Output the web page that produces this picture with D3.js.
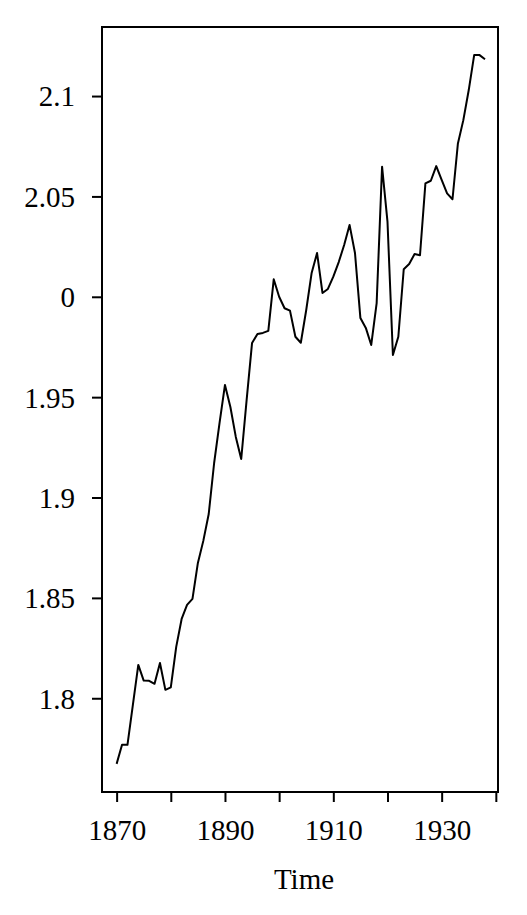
<!DOCTYPE html>
<html>
<head>
<meta charset="utf-8">
<script src="https://cdn.jsdelivr.net/npm/d3@7"></script>
<style>
  body { margin: 0; background: #fff; }
  text { font-family: "Liberation Serif", serif; }
</style>
</head>
<body>
<svg width="527" height="915"></svg>
<script>
// yearly series, values
var years = d3.range(1870, 1939);
var values = [
  1.7673, 1.7768, 1.7768, 1.7967, 1.8166, 1.8088, 1.8087, 1.8072, 1.8176, 1.8042,
  1.8054, 1.8256, 1.8395, 1.8465, 1.8495, 1.8674, 1.8784, 1.8918, 1.9172, 1.9372,
  1.9561, 1.9451, 1.9302, 1.9192, 1.9486, 1.9770, 1.9815, 1.9820, 1.9830, 2.0087,
  2.0000, 1.9943, 1.9931, 1.9801, 1.9771, 1.9934, 2.0119, 2.0218, 2.0019, 2.0039,
  2.0100, 2.0173, 2.0258, 2.0358, 2.0218, 1.9894, 1.9845, 1.9760, 1.9969, 2.0648,
  2.0374, 1.9710, 1.9801, 2.0137, 2.0163, 2.0213, 2.0207, 2.0565, 2.0578, 2.0651,
  2.0582, 2.0515, 2.0486, 2.0764, 2.0880, 2.1030, 2.1204, 2.1204, 2.1183
];

var xTicks = [1870, 1880, 1890, 1900, 1910, 1920, 1930, 1940];
var xLabels = ["1870", "", "1890", "", "1910", "", "1930", ""];
var yTicks = [1.8, 1.85, 1.9, 1.95, 2.0, 2.05, 2.1];
var yLabels = ["1.8", "1.85", "1.9", "1.95", "0", "2.05", "2.1"];

var svg = d3.select("svg");
// plot box (window.top is read-only, so don't call it "top")
var pLeft = 102, pRight = 498, pTop = 27, pBottom = 792;

var x = d3.scaleLinear().domain([1867.3, 1940.4]).range([pLeft, pRight]);
var y = d3.scaleLinear().domain([1.7533, 2.1344]).range([pBottom, pTop]);

// x axis
var gx = svg.append("g")
    .attr("transform", "translate(0," + pBottom + ")")
    .call(d3.axisBottom(x)
      .tickValues(xTicks)
      .tickSize(10)
      .tickSizeOuter(0)
      .tickFormat(function(d, i) { return xLabels[i]; }));
gx.select(".domain").remove();
gx.selectAll("line").attr("stroke", "#000").attr("stroke-width", 2);
gx.selectAll("text")
    .attr("y", 48).attr("dy", 0)
    .attr("fill", "#000")
    .style("font-size", "29px");

// y axis
var gy = svg.append("g")
    .attr("transform", "translate(" + pLeft + ",0)")
    .call(d3.axisLeft(y)
      .tickValues(yTicks)
      .tickSize(10)
      .tickSizeOuter(0)
      .tickPadding(17)
      .tickFormat(function(d, i) { return yLabels[i]; }));
gy.select(".domain").remove();
gy.selectAll("line").attr("stroke", "#000").attr("stroke-width", 2);
gy.selectAll("text")
    .attr("fill", "#000")
    .attr("dy", "0.34em")
    .style("font-size", "29px");

// frame
svg.append("rect")
    .attr("x", pLeft).attr("y", pTop)
    .attr("width", pRight - pLeft).attr("height", pBottom - pTop)
    .attr("fill", "none")
    .attr("stroke", "#000")
    .attr("stroke-width", 2);

// the series
var line = d3.line()
    .x(function(d, i) { return x(years[i]); })
    .y(function(d) { return y(d); });

svg.append("path")
    .datum(values)
    .attr("d", line)
    .attr("fill", "none")
    .attr("stroke", "#000")
    .attr("stroke-width", 2)
    .attr("stroke-linejoin", "round");

// axis title
svg.append("text")
    .attr("x", 304)
    .attr("y", 889)
    .attr("text-anchor", "middle")
    .style("font-size", "29px")
    .text("Time");
</script>
</body>
</html>
